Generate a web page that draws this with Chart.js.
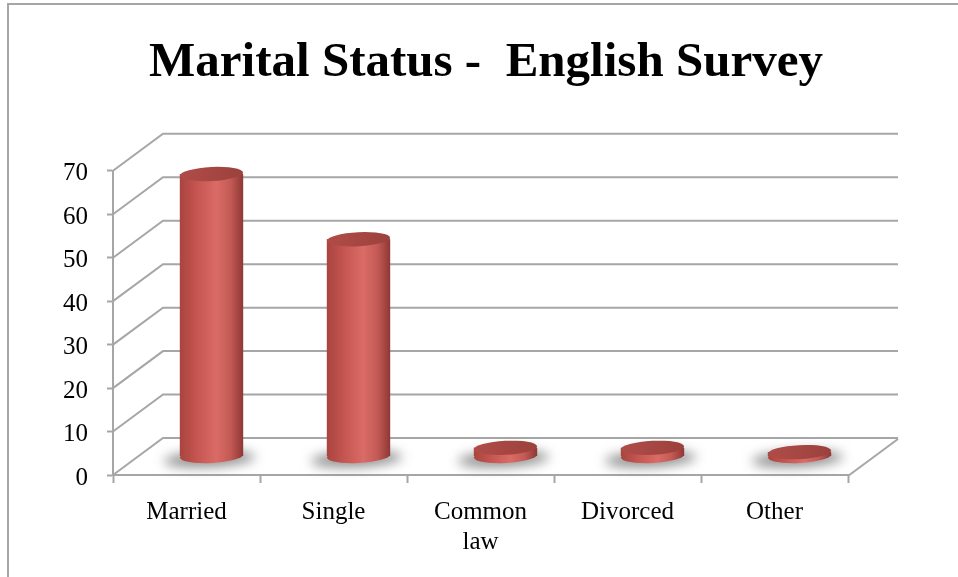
<!DOCTYPE html>
<html lang="en">
<head>
<meta charset="UTF-8" />
<title>Marital Status - English Survey</title>
<script src="https://cdn.jsdelivr.net/npm/chart.js"></script>
<style>
    body { margin: 0; background: #fff; }
    .wrap { position: relative; width: 958px; height: 577px; }
    canvas { display: block; }
    /* outer chart frame, only top and left edges are visible */
    .frame {
        position: absolute; left: 7px; top: 3px; right: -5px; bottom: -5px;
        border-top: 2px solid #a6a6a6; border-left: 2px solid #a6a6a6;
        pointer-events: none;
    }
</style>
</head>
<body>
<div class="wrap">
    <canvas id="chart" width="958" height="577"></canvas>
    <div class="frame"></div>
</div>
<script>
// data
const categories = ["Married", "Single", ["Common", "law"], "Divorced", "Other"];
const counts = [65, 50, 2, 2, 1];
const yMin = 0;
const yMax = 70;
const yStep = 10;

const gridColor = "#a6a6a6";
const fontFamily = "'Liberation Serif', 'Times New Roman', serif";
const back = { dx: 50, dy: -37 };   // back wall offset
const mid = { dx: 25, dy: -18.5 };  // bars stand half way in
const barPct = 0.43;
const tilt = -0.05;

// horizontal shading that makes a bar look round
function cylinderFill(ctx, cx, hw) {
    if (!Number.isFinite(cx) || !Number.isFinite(hw) || hw <= 0) return "#c0504d";
    const g = ctx.createLinearGradient(cx - hw, 0, cx + hw, 0);
    g.addColorStop(0, "#a9443f");
    g.addColorStop(0.25, "#c3544f");
    g.addColorStop(0.58, "#da6b66");
    g.addColorStop(0.8, "#c45a55");
    g.addColorStop(1, "#8e3835");
    return g;
}

// grid lines on the back wall plus the slanted side lines
const wallPlugin = {
    id: "wall3d",
    beforeDatasetsDraw(chart) {
        const { ctx, chartArea } = chart;
        const ys = chart.scales.y;
        ctx.save();
        ctx.strokeStyle = gridColor;
        ctx.lineWidth = 2;
        ys.ticks.forEach((t) => {
            const py = ys.getPixelForValue(t.value);
            ctx.beginPath();
            ctx.moveTo(chartArea.left, py);
            ctx.lineTo(chartArea.left + back.dx, py + back.dy);
            ctx.lineTo(chartArea.right + back.dx, py + back.dy);
            ctx.stroke();
        });
        ctx.beginPath();
        ctx.moveTo(chartArea.right, chartArea.bottom + 1);
        ctx.lineTo(chartArea.right + back.dx, chartArea.bottom + 1 + back.dy);
        ctx.stroke();
        ctx.restore();
    },
};

// cylinders: shift bars into the middle, add floor shadow and round caps
const cylinderPlugin = {
    id: "cylinders",
    beforeDatasetDraw(chart, args) {
        const ctx = chart.ctx;
        ctx.save();
        ctx.translate(mid.dx, mid.dy);
        args.meta.data.forEach((bar) => {
            const { x, base, width } = bar.getProps(["x", "base", "width"], true);
            ctx.save();
            ctx.filter = "blur(6px)";
            ctx.fillStyle = "rgba(70,70,70,0.6)";
            ctx.beginPath();
            ctx.ellipse(x - 2, base + 3, width / 2 + 14, 8, tilt, 0, Math.PI * 2);
            ctx.fill();
            ctx.restore();
        });
    },
    afterDatasetDraw(chart, args) {
        const ctx = chart.ctx;
        args.meta.data.forEach((bar) => {
            const { x, y, base, width } = bar.getProps(["x", "y", "base", "width"], true);
            const hw = width / 2;
            const ry = 7;
            // rounded bottom (full ellipse so no seam shows against the body)
            ctx.fillStyle = cylinderFill(ctx, x, hw);
            ctx.beginPath();
            ctx.ellipse(x, base, hw, ry, tilt, 0, Math.PI * 2);
            ctx.fill();
            ctx.fillRect(x - hw, y, hw * 2, base - y);
            // top face
            const g = ctx.createLinearGradient(x - hw, 0, x + hw, 0);
            g.addColorStop(0, "#b04c48");
            g.addColorStop(1, "#9c413d");
            ctx.fillStyle = g;
            ctx.beginPath();
            ctx.ellipse(x, y, hw, ry, tilt, 0, Math.PI * 2);
            ctx.fill();
        });
        ctx.restore();
    },
};

new Chart(document.getElementById("chart"), {
    type: "bar",
    data: {
        labels: categories,
        datasets: [
            {
                data: counts,
                clip: false,
                categoryPercentage: 1,
                barPercentage: barPct,
                borderWidth: 0,
                backgroundColor: (c) => {
                    const xs = c.chart.scales.x;
                    if (!xs || !xs.width) return "#c0504d";
                    const hw = (xs.width / categories.length) * barPct / 2;
                    return cylinderFill(c.chart.ctx, xs.getPixelForValue(c.dataIndex), hw);
                },
            },
        ],
    },
    options: {
        responsive: false,
        animation: false,
        events: [],
        layout: { padding: { left: 14, right: 0, top: 0, bottom: 0 } },
        plugins: {
            legend: { display: false },
            tooltip: { enabled: false },
            title: {
                display: true,
                text: "Marital Status -  English Survey",
                color: "#000",
                font: { family: fontFamily, size: 49, weight: "bold", lineHeight: 1.2 },
                padding: { top: 34, bottom: 78 },
            },
        },
        scales: {
            x: {
                grid: {
                    offset: true,
                    drawOnChartArea: false,
                    drawTicks: true,
                    tickLength: 8,
                    tickColor: gridColor,
                    tickWidth: 2,
                },
                border: { display: true, color: gridColor, width: 2 },
                ticks: {
                    color: "#000",
                    padding: 14,
                    maxRotation: 0,
                    font: { family: fontFamily, size: 25, lineHeight: 1.22 },
                },
                afterFit: (s) => { s.height = 102; },
            },
            y: {
                min: yMin,
                max: yMax,
                grid: {
                    drawOnChartArea: false,
                    drawTicks: true,
                    tickLength: 6,
                    tickColor: gridColor,
                    tickWidth: 2,
                },
                border: { display: true, color: gridColor, width: 2 },
                ticks: {
                    stepSize: yStep,
                    color: "#000",
                    padding: 19,
                    labelOffset: 3,
                    font: { family: fontFamily, size: 25 },
                },
                afterFit: (s) => { s.width = 99; },
            },
            // empty right axis, keeps room for the wall depth
            yr: {
                position: "right",
                display: true,
                grid: { display: false },
                border: { display: false },
                ticks: { display: false },
                afterFit: (s) => { s.width = 110; },
            },
        },
    },
    plugins: [wallPlugin, cylinderPlugin],
});
</script>
</body>
</html>
